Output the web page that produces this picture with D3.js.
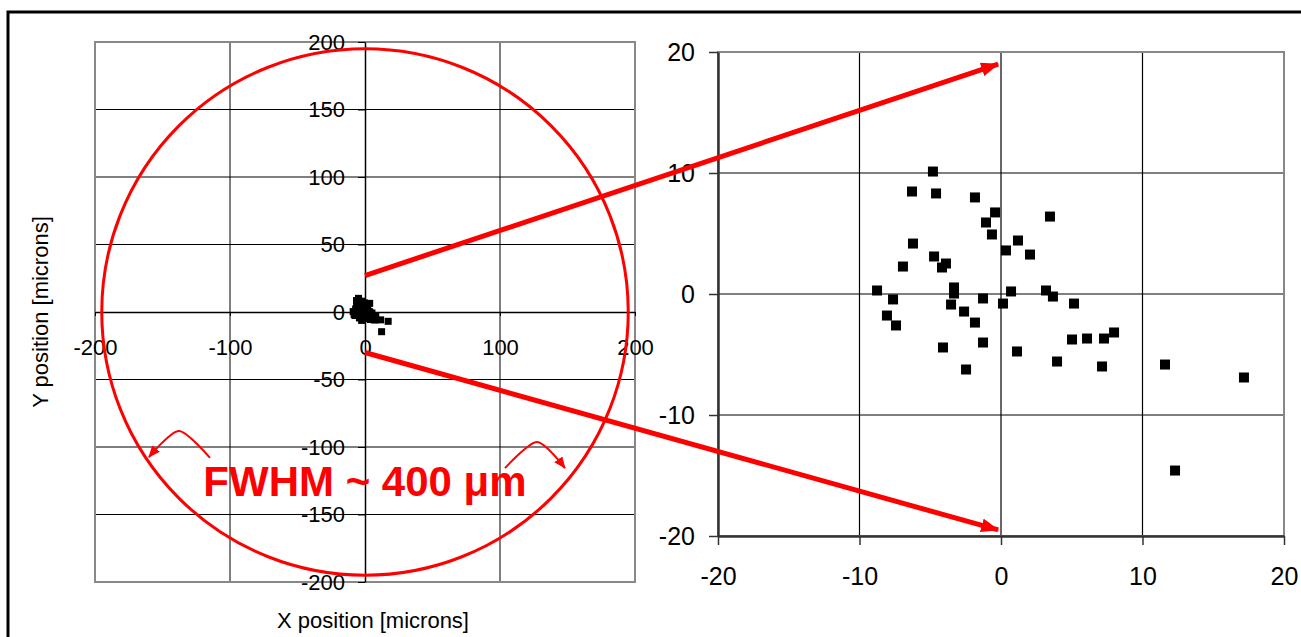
<!DOCTYPE html>
<html>
<head>
<meta charset="utf-8">
<script src="https://cdn.jsdelivr.net/npm/d3@7"></script>
<style>
  body { margin: 0; background: #fff; }
  text { font-family: "Liberation Sans", Arial, sans-serif; }
</style>
</head>
<body>
<svg id="chart" width="1301" height="637"></svg>
<script>
// beam spot positions, microns
const xPos = [-8.76, -7.63, -8.06, -7.42, -6.93, -6.22, -6.29, -4.81, -4.59, -4.73, -4.17,
  -3.89, -3.32, -3.32, -3.53, -4.10, -2.61, -2.47, -1.84, -1.84, -1.06, -1.27, -1.27,
  -0.64, -0.42, 0.35, 0.14, 0.71, 1.20, 1.13, 2.05, 3.46, 3.18, 3.67, 5.16, 5.02,
  6.08, 7.28, 7.99, 3.96, 7.14, 11.59, 17.17, 12.30];
const yPos = [0.29, -0.45, -1.78, -2.60, 2.27, 4.17, 8.47, 10.12, 8.31, 3.10, 2.19,
  2.52, 0.54, 0.04, -0.87, -4.42, -1.45, -6.24, -2.36, 7.98, 5.91, -0.37, -4.01,
  4.92, 6.74, 3.60, -0.79, 0.21, 4.42, -4.75, 3.26, 6.40, 0.29, -0.21, -0.79, -3.76,
  -3.68, -3.68, -3.18, -5.58, -5.99, -5.83, -6.90, -14.59];

const leftXTicks = [-200, -100, 0, 100, 200];
const leftYTicks = [-200, -150, -100, -50, 0, 50, 100, 150, 200];
const rightTicks = [-20, -10, 0, 10, 20];
const fwhmRadius = 195;
const fwhmLabel = "FWHM ~ 400 \u03bcm";

const points = xPos.map((x, i) => ({x: x, y: yPos[i]}));
const plain = d => String(d); // keep hyphen minus like the original

const svg = d3.select('#chart');
const red = '#ff0000';

// outer frame
svg.append('path')
  .attr('d', 'M8,640 L8,12 L1305,12')
  .attr('fill', 'none')
  .attr('stroke', '#000')
  .attr('stroke-width', 3);

const defs = svg.append('defs');
defs.append('marker')
  .attr('id', 'bigHead')
  .attr('markerUnits', 'userSpaceOnUse')
  .attr('viewBox', '0 0 18 14')
  .attr('refX', 17).attr('refY', 7)
  .attr('markerWidth', 18).attr('markerHeight', 14)
  .attr('orient', 'auto')
  .append('path').attr('d', 'M0,0 L18,7 L0,14 Z').attr('fill', red);
defs.append('marker')
  .attr('id', 'smallHead')
  .attr('markerUnits', 'userSpaceOnUse')
  .attr('viewBox', '0 0 12 10')
  .attr('refX', 11).attr('refY', 5)
  .attr('markerWidth', 12).attr('markerHeight', 10)
  .attr('orient', 'auto')
  .append('path').attr('d', 'M0,0 L12,5 L0,10 Z').attr('fill', red);

// ---------- left chart ----------
const xL = d3.scaleLinear().domain([-200, 200]).range([95, 635]);
const yL = d3.scaleLinear().domain([-200, 200]).range([582, 42]);
const left = svg.append('g');

left.selectAll('.vgrid').data(leftXTicks.filter(d => Math.abs(d) < 200 && d != 0)).join('line')
  .attr('x1', d => xL(d)).attr('x2', d => xL(d))
  .attr('y1', yL(200)).attr('y2', yL(-200))
  .attr('stroke', '#000').attr('stroke-width', 1);
left.selectAll('.hgrid').data(leftYTicks.filter(d => Math.abs(d) < 200 && d != 0)).join('line')
  .attr('x1', xL(-200)).attr('x2', xL(200))
  .attr('y1', d => yL(d)).attr('y2', d => yL(d))
  .attr('stroke', '#000').attr('stroke-width', 1);
left.append('rect')
  .attr('x', xL(-200)).attr('y', yL(200))
  .attr('width', xL(200) - xL(-200)).attr('height', yL(-200) - yL(200))
  .attr('fill', 'none').attr('stroke', '#888').attr('stroke-width', 2);

const lyAxis = left.append('g')
  .attr('transform', `translate(${xL(0)},0)`)
  .call(d3.axisLeft(yL).tickValues(leftYTicks).tickFormat(plain).tickSize(7).tickSizeOuter(0).tickPadding(13));
const lxAxis = left.append('g')
  .attr('transform', `translate(0,${yL(0)})`)
  .call(d3.axisBottom(xL).tickValues(leftXTicks).tickFormat(plain).tickSize(4).tickSizeOuter(0).tickPadding(23));
[lyAxis, lxAxis].forEach(a => {
  a.selectAll('text').style('font-size', '22px').attr('fill', '#000');
  a.selectAll('line').attr('stroke', '#000');
  a.select('.domain').attr('stroke', '#000').attr('stroke-width', 1.5);
});

left.append('text')
  .attr('transform', `translate(48,${yL(0)}) rotate(-90)`)
  .attr('text-anchor', 'middle')
  .style('font-size', '22px')
  .text('Y position [microns]');
left.append('text')
  .attr('x', xL(0) + 8).attr('y', 628)
  .attr('text-anchor', 'middle')
  .style('font-size', '22px')
  .text('X position [microns]');

left.selectAll('.pt').data(points).join('rect')
  .attr('x', d => xL(d.x) - 3.5).attr('y', d => yL(d.y) - 3.5)
  .attr('width', 7).attr('height', 7)
  .attr('fill', '#000');

left.append('ellipse')
  .attr('cx', xL(0)).attr('cy', yL(0))
  .attr('rx', xL(fwhmRadius) - xL(0)).attr('ry', yL(0) - yL(fwhmRadius))
  .attr('fill', 'none').attr('stroke', red).attr('stroke-width', 3);

// small curved arrows, in left chart data units
const curves = [
  [[-114.8, -108.1], [-137.8, -88.1], [-160, -107.4]],
  [[103.7, -115.6], [127.4, -96.3], [148.1, -115.6]]
];
const curveLine = d3.line().x(d => xL(d[0])).y(d => yL(d[1])).curve(d3.curveCardinal.tension(0.2));
left.selectAll('.curve').data(curves).join('path')
  .attr('d', curveLine)
  .attr('fill', 'none').attr('stroke', red).attr('stroke-width', 2)
  .attr('marker-end', 'url(#smallHead)');

left.append('text')
  .attr('x', xL(0)).attr('y', 496)
  .attr('text-anchor', 'middle')
  .attr('fill', red)
  .style('font-size', '42px').style('font-weight', 'bold')
  .text(fwhmLabel);

// ---------- right chart ----------
const xR = d3.scaleLinear().domain([-20, 20]).range([718, 1284]);
const yR = d3.scaleLinear().domain([-20, 20]).range([536, 52]);
const right = svg.append('g');

right.selectAll('.vgrid').data(rightTicks.filter(d => Math.abs(d) < 20)).join('line')
  .attr('x1', d => xR(d)).attr('x2', d => xR(d))
  .attr('y1', yR(20)).attr('y2', yR(-20))
  .attr('stroke', '#000').attr('stroke-width', 1.2);
right.selectAll('.hgrid').data(rightTicks.filter(d => Math.abs(d) < 20)).join('line')
  .attr('x1', xR(-20)).attr('x2', xR(20))
  .attr('y1', d => yR(d)).attr('y2', d => yR(d))
  .attr('stroke', '#000').attr('stroke-width', 1.2);
right.append('rect')
  .attr('x', xR(-20)).attr('y', yR(20))
  .attr('width', xR(20) - xR(-20)).attr('height', yR(-20) - yR(20))
  .attr('fill', 'none').attr('stroke', '#888').attr('stroke-width', 2);

const ryAxis = right.append('g')
  .attr('transform', `translate(${xR(-20)},0)`)
  .call(d3.axisLeft(yR).tickValues(rightTicks).tickFormat(plain).tickSize(9).tickSizeOuter(0).tickPadding(14));
const rxAxis = right.append('g')
  .attr('transform', `translate(0,${yR(-20)})`)
  .call(d3.axisBottom(xR).tickValues(rightTicks).tickFormat(plain).tickSize(9).tickSizeOuter(0).tickPadding(22));
[ryAxis, rxAxis].forEach(a => {
  a.selectAll('text').style('font-size', '25px').attr('fill', '#000');
  a.selectAll('line').attr('stroke', '#333').attr('stroke-width', 1.5);
  a.select('.domain').attr('stroke', '#333').attr('stroke-width', 2.5);
});

right.selectAll('.pt').data(points).join('rect')
  .attr('x', d => xR(d.x) - 5).attr('y', d => yR(d.y) - 5)
  .attr('width', 10).attr('height', 10)
  .attr('fill', '#000');

// zoom arrows from left cluster to right chart
const zoomArrows = [
  {from: [0, 27], to: [-0.2, 19]},
  {from: [0, -30], to: [-0.2, -19.5]}
];
svg.selectAll('.zoomArrow').data(zoomArrows).join('line')
  .attr('x1', d => xL(d.from[0])).attr('y1', d => yL(d.from[1]))
  .attr('x2', d => xR(d.to[0])).attr('y2', d => yR(d.to[1]))
  .attr('stroke', red).attr('stroke-width', 5)
  .attr('marker-end', 'url(#bigHead)');
</script>
</body>
</html>
